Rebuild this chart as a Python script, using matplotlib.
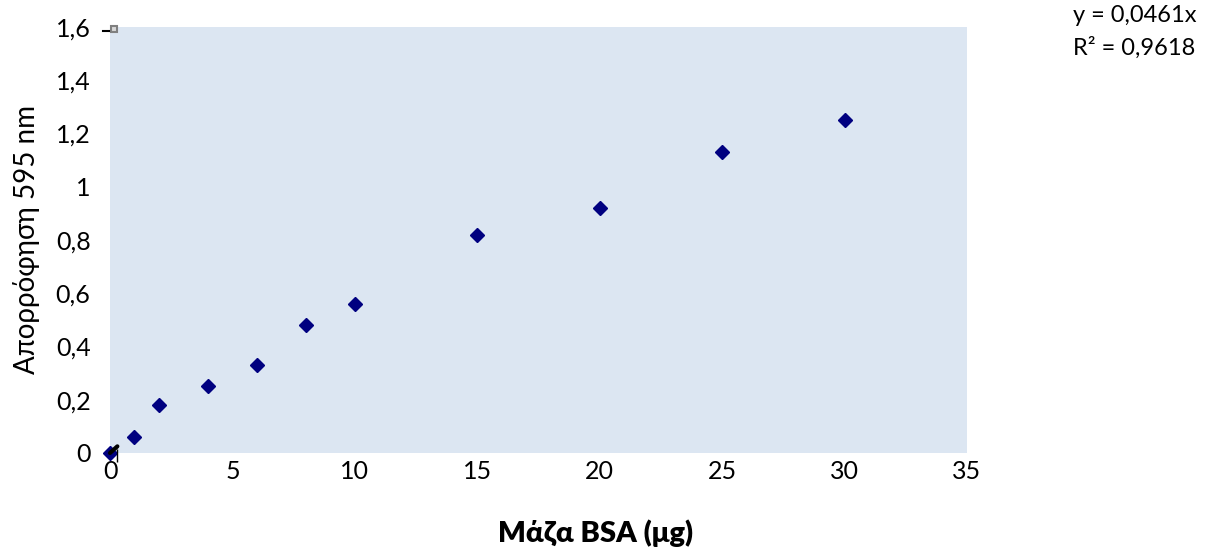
import matplotlib
matplotlib.use("Agg")
import matplotlib.pyplot as plt
import numpy as np

# Data
mass_ug = [0, 1, 2, 4, 6, 8, 10, 15, 20, 25, 30]
absorbance = [0.0, 0.06, 0.18, 0.25, 0.33, 0.48, 0.56, 0.82, 0.92, 1.13, 1.25]
slope = 0.0461
r2 = 0.9618
trend_x = [0.0, 0.3]
trend_y = [0.0, 0.025]
stub_x = [0.3]
stub_lo = [-0.035]
stub_hi = [0.015]
extra_x = [0.16]
extra_y = [1.593]
extra_line_x = [-0.3, -0.05]
extra_line_y = [1.585, 1.585]
y_ticks = [0, 0.2, 0.4, 0.6, 0.8, 1.0, 1.2, 1.4, 1.6]
x_ticks = [0, 5, 10, 15, 20, 25, 30, 35]

plt.rcParams['font.family'] = ['Lato', 'DejaVu Sans']

fig = plt.figure(figsize=(12.07, 5.51), dpi=100)
ax = fig.add_axes([110/1207, 1 - 453/551, 857/1207, 426/551])
ax.set_facecolor('#DCE6F2')
for s in ax.spines.values():
    s.set_visible(False)

ax.plot(mass_ug, absorbance, linestyle='none', marker='D', markersize=7,
        color='#000080', zorder=3, clip_on=False)
ax.plot(trend_x, trend_y, color='black', lw=3, solid_capstyle='round', zorder=4, clip_on=False)
ax.vlines(stub_x, stub_lo, stub_hi, color='black', lw=1, zorder=4, clip_on=False)
ax.plot(extra_x, extra_y, linestyle='none', marker='s', markersize=5,
        markerfacecolor='#D8D8D8', markeredgecolor='#808080', markeredgewidth=1.5,
        clip_on=False, zorder=4)
ax.plot(extra_line_x, extra_line_y, color='black', lw=1.5, clip_on=False, zorder=4)

ax.set_xlim(0, 35)
ax.set_ylim(0, 1.6)
ax.set_xticks(x_ticks)
ax.set_yticks(y_ticks)

def fmt(v):
    return ('%g' % v).replace('.', ',')

ax.set_xticklabels([fmt(v) for v in x_ticks])
ax.set_yticklabels([fmt(v) for v in y_ticks])
ax.tick_params(axis='both', length=0, labelsize=18, colors='black')
ax.tick_params(axis='y', pad=14)
ax.tick_params(axis='x', pad=5)

ax.set_xlabel('Μάζα BSA (μg)', fontsize=21, fontweight='heavy')
ax.xaxis.set_label_coords((596 - 110) / 857, -(533 - 453) / 426)
ax.xaxis.label.set_va('center')
ax.set_ylabel('Απορρόφηση 595 nm', fontsize=20, labelpad=11)

fig.text(1073/1207, 1 - 15/551, 'y = 0,0461x', fontsize=17, ha='left', va='center')
fig.text(1073/1207, 1 - 48/551, 'R² = 0,9618', fontsize=17, ha='left', va='center')

fig.savefig('out.png', dpi=100)
